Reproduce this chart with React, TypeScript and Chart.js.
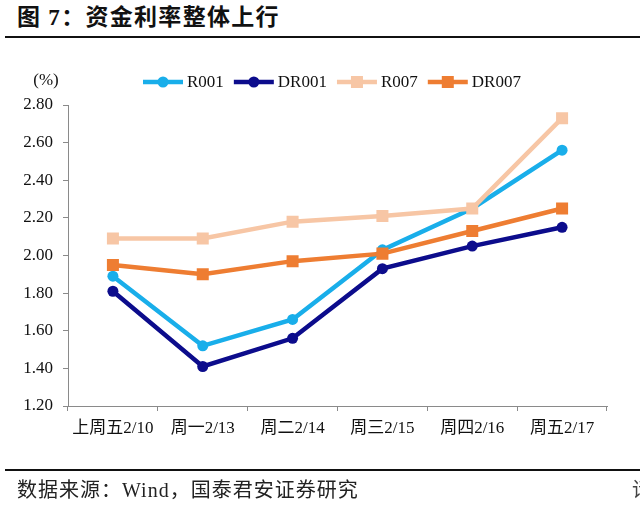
import React, { useEffect, useRef } from "react";
import { Chart, registerables } from "chart.js";

Chart.register(...registerables);

// Money-market rates over the week (%)
const categories = ["上周五2/10", "周一2/13", "周二2/14", "周三2/15", "周四2/16", "周五2/17"];
const r001 = [1.89, 1.52, 1.66, 2.03, 2.25, 2.56];
const dr001 = [1.81, 1.41, 1.56, 1.93, 2.05, 2.15];
const r007 = [2.09, 2.09, 2.18, 2.21, 2.25, 2.73];
const dr007 = [1.95, 1.9, 1.97, 2.01, 2.13, 2.25];
const seriesNames = ["R001", "DR001", "R007", "DR007"];
const yMin = 1.2;
const yMax = 2.8;
const yStep = 0.2;

const COLORS = ["#19AEEA", "#0C0C8C", "#F7C6A5", "#EE7D32"];
const SERIF = "'Liberation Serif', 'Noto Sans CJK SC', serif";

type Marker = "circle" | "rect";
const markers: Marker[] = ["circle", "circle", "rect", "rect"];

// Legend: a line segment with the series marker in its middle, then the name
const legendPlugin = {
  id: "lineMarkerLegend",
  afterDraw(chart: Chart) {
    const ctx = chart.ctx;
    ctx.save();
    ctx.font = `17px ${SERIF}`;
    ctx.textBaseline = "middle";
    ctx.textAlign = "left";
    const y = 82;
    let x = 143;
    const lineLen = 40;
    seriesNames.forEach((name, i) => {
      const color = COLORS[i];
      ctx.strokeStyle = color;
      ctx.lineWidth = 4.5;
      ctx.beginPath();
      ctx.moveTo(x, y);
      ctx.lineTo(x + lineLen, y);
      ctx.stroke();
      ctx.fillStyle = color;
      const cx = x + lineLen / 2;
      if (markers[i] === "circle") {
        ctx.beginPath();
        ctx.arc(cx, y, 5.5, 0, Math.PI * 2);
        ctx.fill();
      } else {
        ctx.fillRect(cx - 6, y - 6, 12, 12);
      }
      ctx.fillStyle = "#111";
      ctx.fillText(name, x + lineLen + 4, y + 1);
      x += lineLen + 4 + ctx.measureText(name).width + 10;
    });
    // unit label above the value axis
    ctx.textAlign = "center";
    ctx.fillText("(%)", 46, 81);
    ctx.restore();
  },
};

function App() {
  const canvasRef = useRef<HTMLCanvasElement | null>(null);

  useEffect(() => {
    const canvas = canvasRef.current;
    if (!canvas) return;
    const seriesValues = [r001, dr001, r007, dr007];
    const chart = new Chart(canvas, {
      type: "line",
      data: {
        labels: categories,
        datasets: seriesNames.map((name, i) => ({
          label: name,
          data: seriesValues[i],
          borderColor: COLORS[i],
          backgroundColor: COLORS[i],
          borderWidth: 4.5,
          pointStyle: markers[i],
          pointRadius: markers[i] === "circle" ? 5.5 : 8.5,
          pointBorderWidth: 0,
          pointBackgroundColor: COLORS[i],
          tension: 0,
          fill: false,
          order: 4 - i,
        })),
      },
      options: {
        responsive: false,
        animation: false,
        layout: { padding: { left: 0, top: 105, right: 33, bottom: 60 } },
        plugins: {
          legend: { display: false },
          tooltip: { enabled: false },
          title: { display: false },
        },
        scales: {
          x: {
            type: "category",
            offset: true,
            grid: {
              display: true,
              offset: true,
              drawOnChartArea: false,
              drawTicks: true,
              tickLength: 5,
              color: "#8a8a8a",
            },
            border: { display: true, color: "#8a8a8a", width: 1 },
            ticks: {
              color: "#111",
              font: { family: SERIF, size: 17 },
              padding: 7,
              maxRotation: 0,
              autoSkip: false,
            },
            afterFit(scale: any) {
              scale.height = 40;
            },
          },
          y: {
            min: yMin,
            max: yMax,
            grid: {
              display: true,
              drawOnChartArea: false,
              drawTicks: true,
              tickLength: 5,
              color: "#8a8a8a",
            },
            border: { display: true, color: "#8a8a8a", width: 1 },
            ticks: {
              stepSize: yStep,
              color: "#111",
              font: { family: SERIF, size: 17 },
              padding: 10,
              callback: (v: any) => Number(v).toFixed(2),
            },
            afterFit(scale: any) {
              scale.width = 68;
            },
          },
        },
      },
      plugins: [legendPlugin],
    });
    return () => chart.destroy();
  }, []);

  return (
    <div
      style={{
        position: "absolute",
        left: 0,
        top: 0,
        width: 640,
        height: 506,
        overflow: "hidden",
        background: "#fff",
      }}
    >
      <div
        style={{
          position: "absolute",
          left: 17,
          top: 3,
          fontFamily: SERIF,
          fontWeight: 700,
          fontSize: 23,
          lineHeight: "30px",
          whiteSpace: "nowrap",
          color: "#111",
          letterSpacing: 1.3,
        }}
      >
        图 7：资金利率整体上行
      </div>
      <div style={{ position: "absolute", left: 5, top: 36, width: 635, height: 2, background: "#111" }} />
      <canvas
        ref={canvasRef}
        width={640}
        height={506}
        style={{ position: "absolute", left: 0, top: 0, width: 640, height: 506 }}
      />
      <div style={{ position: "absolute", left: 5, top: 469, width: 635, height: 2, background: "#111" }} />
      <div
        style={{
          position: "absolute",
          left: 17,
          top: 477,
          fontFamily: SERIF,
          fontSize: 20,
          lineHeight: "26px",
          whiteSpace: "nowrap",
          color: "#222",
          letterSpacing: 1,
        }}
      >
        数据来源：Wind，国泰君安证券研究
      </div>
      <div
        style={{
          position: "absolute",
          left: 632,
          top: 477,
          fontFamily: SERIF,
          fontSize: 20,
          lineHeight: "26px",
          whiteSpace: "nowrap",
          color: "#444",
        }}
      >
        请
      </div>
    </div>
  );
}

export default App;
